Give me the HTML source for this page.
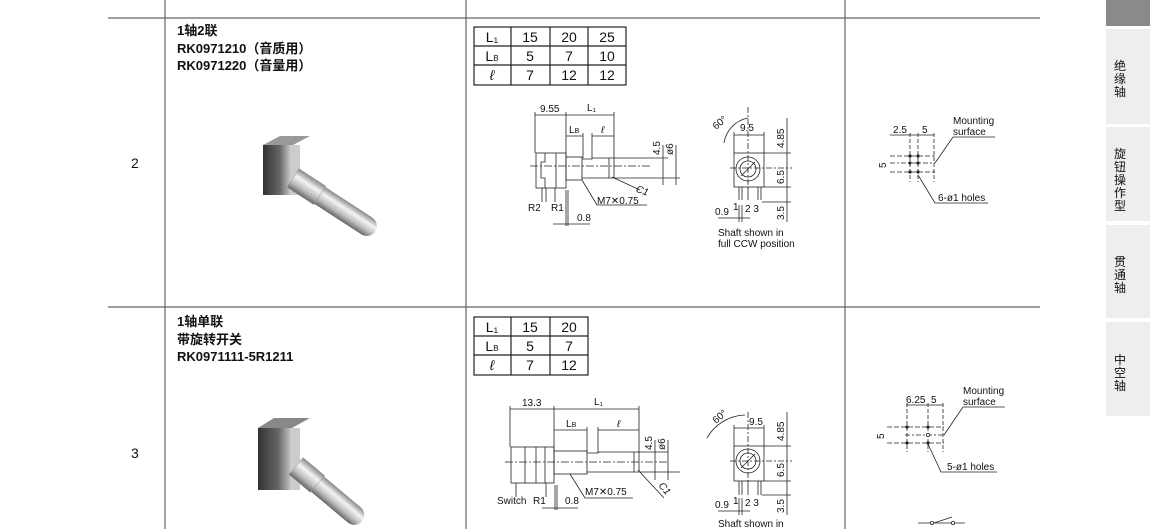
<!DOCTYPE html>
<html><head><meta charset="utf-8"><style>
body{margin:0;background:#fff;width:1150px;height:529px;overflow:hidden}
svg{display:block}
text{font-family:"Liberation Sans","Noto Sans CJK SC",sans-serif;fill:#111}
.d{font-size:10px}
.t{font-size:13px;font-weight:bold}
.tb{font-size:14px}
.tab{font-size:12px;fill:#bbb}
</style></head><body>
<svg width="1150" height="529" viewBox="0 0 1150 529" xmlns="http://www.w3.org/2000/svg">
<defs>
<linearGradient id="sh" x1="0" y1="0" x2="0" y2="1">
<stop offset="0" stop-color="#888"/><stop offset=".35" stop-color="#f4f4f4"/><stop offset=".7" stop-color="#bbb"/><stop offset="1" stop-color="#666"/></linearGradient>
<linearGradient id="bd" x1="0" y1="0" x2="1" y2="0">
<stop offset="0" stop-color="#333"/><stop offset=".6" stop-color="#666"/><stop offset="1" stop-color="#ccc"/></linearGradient>
</defs>
<g stroke="#666" stroke-width="1.2" fill="none">
<line x1="108" y1="18" x2="1040" y2="18"/>
<line x1="108" y1="307" x2="1040" y2="307"/>
<line x1="165" y1="0" x2="165" y2="529"/>
<line x1="466" y1="0" x2="466" y2="529"/>
<line x1="845" y1="0" x2="845" y2="529"/>
</g>
<rect x="1106" y="0" width="44" height="26" fill="#8a8a8a"/>
<rect x="1106" y="29" width="44" height="95" fill="#eeeeee"/>
<rect x="1106" y="127" width="44" height="94" fill="#eeeeee"/>
<rect x="1106" y="225" width="44" height="93" fill="#eeeeee"/>
<rect x="1106" y="322" width="44" height="94" fill="#eeeeee"/>
<g class="tab" text-anchor="middle">
<text x="1120" y="70">绝</text><text x="1120" y="83">缘</text><text x="1120" y="96">轴</text>
<text x="1120" y="158">旋</text><text x="1120" y="171">钮</text><text x="1120" y="184">操</text><text x="1120" y="197">作</text><text x="1120" y="210">型</text>
<text x="1120" y="266">贯</text><text x="1120" y="279">通</text><text x="1120" y="292">轴</text>
<text x="1120" y="364">中</text><text x="1120" y="377">空</text><text x="1120" y="390">轴</text>
</g>
<text class="tb" x="131" y="168">2</text>
<text class="tb" x="131" y="458">3</text>
<text class="t" x="177" y="35">1轴2联</text>
<text class="t" x="177" y="53">RK0971210（音质用）</text>
<text class="t" x="177" y="70">RK0971220（音量用）</text>
<text class="t" x="177" y="326">1轴单联</text>
<text class="t" x="177" y="344">带旋转开关</text>
<text class="t" x="177" y="361">RK0971111-5R1211</text>
<g>
<rect x="263" y="145" width="28" height="50" fill="url(#bd)"/>
<polygon points="263,145 280,136 310,136 293,145" fill="#999"/>
<rect x="290" y="145" width="10" height="50" fill="#ccc"/>
<g transform="translate(293,178) rotate(33)"><rect x="0" y="-10" width="98" height="20" rx="10" fill="url(#sh)"/><rect x="0" y="-11" width="32" height="22" fill="url(#sh)" stroke="#999" stroke-width=".5"/></g>
<rect x="258" y="428" width="34" height="62" fill="url(#bd)"/>
<polygon points="258,428 274,418 310,418 292,428" fill="#888"/>
<rect x="290" y="428" width="10" height="62" fill="#ccc"/>
<g transform="translate(296,466) rotate(40)"><rect x="0" y="-10" width="86" height="20" rx="10" fill="url(#sh)"/><rect x="0" y="-11" width="28" height="22" fill="url(#sh)" stroke="#999" stroke-width=".5"/></g>
</g>
<g stroke="#222" stroke-width="1.2" fill="none">
<rect x="474" y="27" width="152" height="58"/>
<line x1="474" y1="46" x2="626" y2="46"/><line x1="474" y1="65" x2="626" y2="65"/>
<line x1="511" y1="27" x2="511" y2="85"/><line x1="550" y1="27" x2="550" y2="85"/><line x1="588" y1="27" x2="588" y2="85"/>
<rect x="474" y="317" width="114" height="58"/>
<line x1="474" y1="336" x2="588" y2="336"/><line x1="474" y1="355" x2="588" y2="355"/>
<line x1="511" y1="317" x2="511" y2="375"/><line x1="550" y1="317" x2="550" y2="375"/>
</g>
<g font-size="14" text-anchor="middle">
<text x="492" y="42">L₁</text><text x="530" y="42">15</text><text x="569" y="42">20</text><text x="607" y="42">25</text>
<text x="492" y="61">L<tspan font-size="8">B</tspan></text><text x="530" y="61">5</text><text x="569" y="61">7</text><text x="607" y="61">10</text>
<text x="492" y="80" font-style="italic">ℓ</text><text x="530" y="80">7</text><text x="569" y="80">12</text><text x="607" y="80">12</text>
<text x="492" y="332">L₁</text><text x="530" y="332">15</text><text x="569" y="332">20</text>
<text x="492" y="351">L<tspan font-size="8">B</tspan></text><text x="530" y="351">5</text><text x="569" y="351">7</text>
<text x="492" y="370" font-style="italic">ℓ</text><text x="530" y="370">7</text><text x="569" y="370">12</text>
</g>
<g stroke="#222" stroke-width="0.8" fill="none">
<line x1="535" y1="115" x2="614" y2="115"/>
<line x1="535" y1="112" x2="535" y2="153"/><line x1="566" y1="112" x2="566" y2="158"/><line x1="614" y1="112" x2="614" y2="158"/>
<line x1="566" y1="136" x2="583" y2="136"/><line x1="592" y1="136" x2="614" y2="136"/>
<line x1="583" y1="133" x2="583" y2="158"/><line x1="592" y1="133" x2="592" y2="158"/>
<rect x="536" y="153" width="30" height="35"/>
<polyline points="545,153 545,162 541,162 541,178 545,178 545,188"/>
<line x1="556" y1="153" x2="556" y2="188"/>
<rect x="566" y="157" width="16" height="23"/>
<polyline points="582,159 592,159 592,158 614,158 614,178 582,178"/>
<line x1="609" y1="158" x2="609" y2="178"/>
<line x1="530" y1="166" x2="652" y2="166" stroke-dasharray="8,2,2,2"/>
<line x1="614" y1="158" x2="668" y2="158"/><line x1="614" y1="178" x2="680" y2="178"/>
<line x1="663" y1="145" x2="663" y2="185"/><line x1="676" y1="145" x2="676" y2="185"/>
<line x1="612" y1="177" x2="640" y2="190"/>
<polyline points="582,180 597,205 647,205"/>
<line x1="542" y1="188" x2="542" y2="202"/><line x1="546" y1="188" x2="546" y2="202"/><line x1="555" y1="188" x2="555" y2="202"/>
<line x1="553" y1="224" x2="590" y2="224"/><line x1="566" y1="190" x2="566" y2="226"/><line x1="568" y1="190" x2="568" y2="226"/>
</g>
<g class="d">
<text x="540" y="112">9.55</text><text x="587" y="111">L₁</text>
<text x="569" y="133">L<tspan font-size="7">B</tspan></text><text x="601" y="133" font-style="italic">ℓ</text>
<text transform="translate(660,155) rotate(-90)">4.5</text><text transform="translate(673,155) rotate(-90)">ø6</text>
<text x="636" y="193" font-style="italic" transform="rotate(20 640 190)">C1</text>
<text x="597" y="204">M7✕0.75</text>
<text x="528" y="211">R2</text><text x="551" y="211">R1</text><text x="577" y="221">0.8</text>
</g>
<g stroke="#222" stroke-width="0.8" fill="none">
<rect x="734" y="153" width="30" height="34"/>
<circle cx="748" cy="169" r="12"/><circle cx="748" cy="169" r="8"/>
<line x1="741" y1="176" x2="755" y2="162"/>
<line x1="739" y1="187" x2="739" y2="200"/><line x1="742" y1="187" x2="742" y2="200"/>
<line x1="748" y1="187" x2="748" y2="200"/><line x1="758" y1="187" x2="758" y2="200"/><line x1="761" y1="187" x2="761" y2="200"/>
<path d="M724,143 A30,30 0 0 1 748,118"/>
<line x1="748" y1="107" x2="748" y2="190" stroke-dasharray="6,2,2,2"/>
<line x1="730" y1="168" x2="792" y2="168" stroke-dasharray="6,2,2,2"/>
<line x1="734" y1="135" x2="764" y2="135"/><line x1="734" y1="132" x2="734" y2="153"/><line x1="764" y1="132" x2="764" y2="153"/>
<line x1="764" y1="153" x2="791" y2="153"/><line x1="764" y1="187" x2="791" y2="187"/><line x1="762" y1="202" x2="791" y2="202"/>
<line x1="787" y1="118" x2="787" y2="222"/>
<line x1="718" y1="218" x2="750" y2="218"/><line x1="739" y1="205" x2="739" y2="222"/><line x1="742" y1="205" x2="742" y2="222"/>
</g>
<g class="d">
<text transform="translate(716,130) rotate(-40)">60°</text>
<text x="740" y="131">9.5</text>
<text transform="translate(784,148) rotate(-90)">4.85</text>
<text transform="translate(784,184) rotate(-90)">6.5</text>
<text transform="translate(784,220) rotate(-90)">3.5</text>
<text x="715" y="215">0.9</text><text x="733" y="210">1</text><text x="745" y="212">2 3</text>
<text x="718" y="236">Shaft shown in</text><text x="718" y="247">full CCW position</text>
</g>
<g stroke="#222" stroke-width="0.8" fill="none">
<line x1="890" y1="135" x2="934" y2="135"/>
<line x1="910" y1="133" x2="910" y2="182" stroke-dasharray="4,2"/><line x1="918" y1="133" x2="918" y2="182" stroke-dasharray="4,2"/><line x1="934" y1="133" x2="934" y2="182" stroke-dasharray="4,2"/>
<line x1="890" y1="156" x2="935" y2="156" stroke-dasharray="5,2"/><line x1="890" y1="163" x2="935" y2="163" stroke-dasharray="5,2,2,2"/><line x1="890" y1="172" x2="935" y2="172" stroke-dasharray="5,2"/>
<polyline points="953,137 995,137"/><line x1="953" y1="137" x2="935" y2="163"/>
<polyline points="918,175 935,203 988,203"/>
</g>
<g fill="#222"><circle cx="910" cy="156" r="1.6"/><circle cx="918" cy="156" r="1.6"/><circle cx="910" cy="163" r="1.6"/><circle cx="918" cy="163" r="1.6"/><circle cx="910" cy="172" r="1.6"/><circle cx="918" cy="172" r="1.6"/></g>
<g class="d">
<text x="893" y="133">2.5</text><text x="922" y="133">5</text>
<text transform="translate(886,168) rotate(-90)">5</text>
<text x="953" y="124">Mounting</text><text x="953" y="135">surface</text>
<text x="938" y="201">6-ø1 holes</text>
</g>
<g stroke="#222" stroke-width="0.8" fill="none">
<line x1="510" y1="409" x2="639" y2="409"/>
<line x1="510" y1="406" x2="510" y2="447"/><line x1="554" y1="406" x2="554" y2="452"/><line x1="639" y1="406" x2="639" y2="453"/>
<line x1="554" y1="430" x2="587" y2="430"/><line x1="598" y1="430" x2="639" y2="430"/>
<line x1="587" y1="427" x2="587" y2="452"/><line x1="598" y1="427" x2="598" y2="453"/>
<rect x="511" y="447" width="43" height="36"/>
<line x1="525" y1="447" x2="525" y2="483"/><line x1="536" y1="447" x2="536" y2="483"/><line x1="545" y1="447" x2="545" y2="483"/>
<rect x="554" y="451" width="33" height="23"/>
<polyline points="587,453 598,453 598,452 639,452 639,472 587,472"/>
<line x1="634" y1="452" x2="634" y2="472"/>
<line x1="505" y1="462" x2="668" y2="462" stroke-dasharray="8,2,2,2"/>
<line x1="639" y1="452" x2="668" y2="452"/><line x1="639" y1="472" x2="680" y2="472"/>
<line x1="655" y1="440" x2="655" y2="480"/><line x1="668" y1="440" x2="668" y2="480"/>
<line x1="638" y1="470" x2="664" y2="498"/>
<polyline points="570,474 585,498 633,498"/>
<line x1="516" y1="483" x2="516" y2="497"/><line x1="546" y1="483" x2="546" y2="497"/>
<line x1="542" y1="508" x2="578" y2="508"/><line x1="555" y1="485" x2="555" y2="510"/><line x1="557" y1="485" x2="557" y2="510"/>
</g>
<g class="d">
<text x="522" y="406">13.3</text><text x="594" y="405">L₁</text>
<text x="566" y="427">L<tspan font-size="7">B</tspan></text><text x="617" y="427" font-style="italic">ℓ</text>
<text transform="translate(652,450) rotate(-90)">4.5</text><text transform="translate(665,450) rotate(-90)">ø6</text>
<text x="657" y="488" font-style="italic" transform="rotate(50 660 488)">C1</text>
<text x="585" y="495">M7✕0.75</text>
<text x="497" y="504">Switch</text><text x="533" y="504">R1</text><text x="565" y="504">0.8</text>
</g>
<g stroke="#222" stroke-width="0.8" fill="none">
<rect x="734" y="446" width="30" height="35"/>
<circle cx="748" cy="461" r="12"/><circle cx="748" cy="461" r="8"/>
<line x1="741" y1="468" x2="755" y2="454"/>
<line x1="739" y1="481" x2="739" y2="495"/><line x1="742" y1="481" x2="742" y2="495"/>
<line x1="748" y1="481" x2="748" y2="495"/><line x1="758" y1="481" x2="758" y2="495"/><line x1="761" y1="481" x2="761" y2="495"/>
<path d="M707,438 A45,45 0 0 1 745,415"/>
<line x1="748" y1="412" x2="748" y2="484" stroke-dasharray="6,2,2,2"/>
<line x1="730" y1="461" x2="792" y2="461" stroke-dasharray="6,2,2,2"/>
<line x1="734" y1="428" x2="764" y2="428"/><line x1="734" y1="425" x2="734" y2="446"/><line x1="764" y1="425" x2="764" y2="446"/>
<line x1="764" y1="446" x2="791" y2="446"/><line x1="764" y1="481" x2="791" y2="481"/><line x1="762" y1="495" x2="791" y2="495"/>
<line x1="787" y1="412" x2="787" y2="515"/>
<line x1="718" y1="511" x2="750" y2="511"/><line x1="739" y1="498" x2="739" y2="515"/><line x1="742" y1="498" x2="742" y2="515"/>
</g>
<g class="d">
<text transform="translate(716,424) rotate(-40)">60°</text>
<text x="749" y="425">9.5</text>
<text transform="translate(784,441) rotate(-90)">4.85</text>
<text transform="translate(784,477) rotate(-90)">6.5</text>
<text transform="translate(784,513) rotate(-90)">3.5</text>
<text x="715" y="508">0.9</text><text x="733" y="504">1</text><text x="745" y="506">2 3</text>
<text x="718" y="527">Shaft shown in</text>
</g>
<g stroke="#222" stroke-width="0.8" fill="none">
<line x1="906" y1="405" x2="943" y2="405"/>
<line x1="907" y1="403" x2="907" y2="452" stroke-dasharray="4,2"/><line x1="928" y1="403" x2="928" y2="452" stroke-dasharray="4,2"/><line x1="943" y1="403" x2="943" y2="452" stroke-dasharray="4,2"/>
<line x1="887" y1="427" x2="944" y2="427" stroke-dasharray="5,2"/><line x1="905" y1="435" x2="944" y2="435" stroke-dasharray="5,2,2,2"/><line x1="887" y1="443" x2="944" y2="443" stroke-dasharray="5,2"/>
<polyline points="963,407 1005,407"/><line x1="963" y1="407" x2="944" y2="435"/>
<polyline points="928,444 941,472 997,472"/>
<line x1="918" y1="523" x2="965" y2="523"/><line x1="934" y1="523" x2="952" y2="517"/>
</g>
<g fill="#222"><circle cx="907" cy="427" r="1.6"/><circle cx="928" cy="427" r="1.6"/><circle cx="907" cy="443" r="1.6"/><circle cx="928" cy="443" r="1.6"/></g>
<g fill="#fff" stroke="#222" stroke-width=".8"><circle cx="928" cy="435" r="1.6"/><circle cx="932" cy="523" r="1.6"/><circle cx="953" cy="523" r="1.6"/></g>
<g class="d">
<text x="906" y="403">6.25</text><text x="931" y="403">5</text>
<text transform="translate(884,439) rotate(-90)">5</text>
<text x="963" y="394">Mounting</text><text x="963" y="405">surface</text>
<text x="947" y="470">5-ø1 holes</text>
</g>
</svg>
</body></html>
